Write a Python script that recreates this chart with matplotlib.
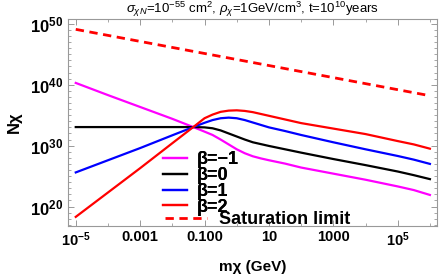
import numpy as np
import matplotlib
matplotlib.use("Agg")
import matplotlib.pyplot as plt
from matplotlib.ticker import FixedLocator, NullFormatter

plt.rcParams['font.family'] = ['Liberation Sans', 'DejaVu Sans']
plt.rcParams['mathtext.fontset'] = 'custom'
plt.rcParams['mathtext.rm'] = 'Liberation Sans'
plt.rcParams['mathtext.it'] = 'Liberation Sans:italic'
plt.rcParams['mathtext.bf'] = 'Liberation Sans:bold'

# -------------------- Data (log10 values) --------------------

log_m = [-5, -4, -3, -2, -1.35, -1, -0.75, -0.5, -0.25, 0, 0.25, 0.5, 0.75,
         1, 1.5, 2, 3, 4, 5, 5.5, 6]

logN_beta_m1 = [40.3, 38.3, 36.35, 34.4, 33.05, 32.3, 31.75, 31.0, 30.2, 29.4, 28.75,
                28.25, 27.9, 27.6, 27.05, 26.4, 25.4, 24.4, 23.3, 22.7, 21.9]
logN_beta_0 = [33.05, 33.05, 33.05, 33.05, 33.05, 33.0, 32.85, 32.5, 32.0, 31.5, 31.0,
               30.55, 30.25, 29.95, 29.4, 28.85, 27.8, 26.8, 25.75, 25.15, 24.5]
logN_beta_1 = [25.6, 27.6, 29.6, 31.7, 33.05, 33.75, 34.2, 34.5, 34.6, 34.5, 34.2,
               33.8, 33.4, 33.0, 32.4, 31.75, 30.55, 29.4, 28.3, 27.7, 27.0]
logN_beta_2 = [18.3, 22.3, 26.3, 30.4, 33.05, 34.5, 35.1, 35.55, 35.75, 35.8, 35.7,
               35.5, 35.2, 34.9, 34.3, 33.7, 32.8, 31.9, 30.75, 30.2, 29.5]

log_m_sat = [-5, 6]
logN_sat = [49.1, 38.2]

series = [
    ("β=−1", logN_beta_m1, "#FF00FF"),
    ("β=0", logN_beta_0, "black"),
    ("β=1", logN_beta_1, "#0000FF"),
    ("β=2", logN_beta_2, "#FF0000"),
]

xtick_pos = [1e-5, 1e-3, 1e-1, 1e1, 1e3, 1e5]
xtick_labels = [r'$\mathbf{10^{-5}}$', '0.001', '0.100', '10', '1000', r'$\mathbf{10^{5}}$']
ytick_pos = [1e20, 1e30, 1e40, 1e50]
ytick_labels = [r'$\mathbf{10^{20}}$', r'$\mathbf{10^{30}}$', r'$\mathbf{10^{40}}$', r'$\mathbf{10^{50}}$']

# -------------------- Plot --------------------

W, H = 443, 277
fig = plt.figure(figsize=(W / 100, H / 100), dpi=100)
ax = fig.add_axes([67.7 / W, 1 - 226 / H, (437 - 67.7) / W, (226 - 19) / H])

m = 10.0 ** np.array(log_m)
lines = []
for label, vals, color in series:
    ln, = ax.plot(m, 10.0 ** np.array(vals), color=color, lw=1.6, label=label)
    lines.append(ln)

sat, = ax.plot(10.0 ** np.array(log_m_sat), 10.0 ** np.array(logN_sat), color="#FF0000",
               lw=2.0, ls=(0, (3, 2)), label="Saturation limit")

ax.set_xscale("log")
ax.set_yscale("log")
ax.set_xlim(10 ** -5.25, 10 ** 6.22)
ax.set_ylim(10 ** 16.8, 10 ** 50.8)

ax.xaxis.set_major_locator(FixedLocator(xtick_pos))
ax.xaxis.set_minor_locator(FixedLocator([10.0 ** k for k in range(-5, 7)]))
ax.set_xticklabels(xtick_labels, fontsize=10.5, fontweight="bold")
ax.xaxis.set_minor_formatter(NullFormatter())
ax.yaxis.set_major_locator(FixedLocator(ytick_pos))
ax.yaxis.set_minor_locator(FixedLocator([10.0 ** k for k in range(17, 51)]))
ax.set_yticklabels(ytick_labels, fontsize=12)
ax.yaxis.set_minor_formatter(NullFormatter())

ax.tick_params(which="both", direction="in", top=True, right=True, color="#999999")
ax.tick_params(which="major", length=4, width=0.7, pad=3)
ax.tick_params(which="minor", length=2, width=0.6)
for s in ax.spines.values():
    s.set_color("#999999")
    s.set_linewidth(0.8)

ax.set_xlabel("mχ (GeV)", fontsize=11, fontweight="bold", labelpad=8)
ax.set_ylabel("Nχ", fontsize=12, fontweight="bold", labelpad=6)
ax.set_title(r'$\sigma_{\chi N}$=10$^{-55}$ cm$^2$, $\rho_\chi$=1GeV/cm$^3$, t=10$^{10}$years',
             fontsize=9.5, pad=2.5)

leg1 = fig.legend(handles=lines, loc="upper left", bbox_to_anchor=(163 / W, 1 - 151 / H),
                  frameon=False, prop={"weight": "bold", "size": 13}, handlelength=1.35,
                  handletextpad=0.5, labelspacing=-0.06, borderpad=0, borderaxespad=0)
fig.add_artist(leg1)
fig.legend(handles=[sat], loc="upper left", bbox_to_anchor=(165 / W, 1 - 211 / H),
           frameon=False, prop={"weight": "bold", "size": 13}, handlelength=2.3,
           handletextpad=0.7, borderpad=0, borderaxespad=0)

fig.savefig("out.png", dpi=100)
